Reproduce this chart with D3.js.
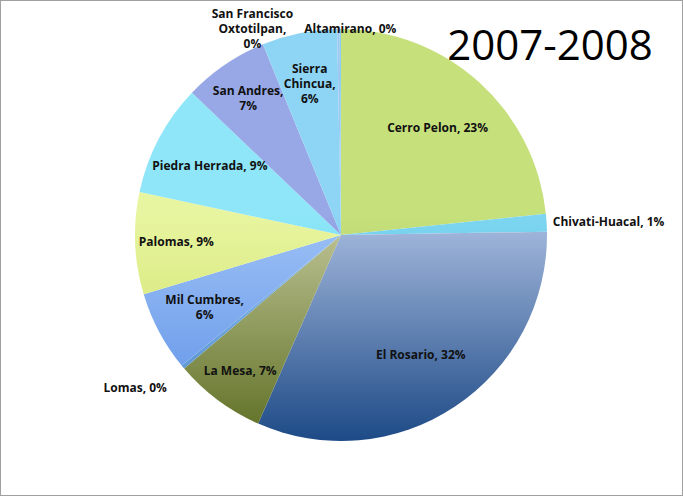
<!DOCTYPE html>
<html>
<head>
<meta charset="UTF-8">
<script src="https://d3js.org/d3.v7.min.js"></script>
<style>
  * { margin: 0; padding: 0; box-sizing: border-box; }
  body { background: #fff; font-family: "Open Sans", "Liberation Sans", sans-serif; }
  svg { display: block; }
</style>
</head>
<body>
<div id="chart"></div>
<script>
  // slices clockwise from 12 o'clock
  const categories = ["Cerro Pelon", "Chivati-Huacal", "El Rosario", "La Mesa", "Lomas",
                      "Mil Cumbres", "Palomas", "Piedra Herrada", "San Andres",
                      "Sierra Chincua", "San Francisco Oxtotilpan", "Altamirano"];
  const values = [23.4, 1.4, 31.9, 7.2, 0.3, 6.3, 8.0, 8.8, 6.7, 5.9, 0.2, 0.1];
  const pctLabels = ["23%", "1%", "32%", "7%", "0%", "6%", "9%", "9%", "7%", "6%", "0%", "0%"];
  const colors = ["#c6e07c", "#7ed6f0", "#a9bde0", "#c2c79a", "#8ec0ee", "#9ec2f6",
                  "#e8f5a0", "#8ee6f8", "#98a8e6", "#8ed4f4", "#9ec8f0", "#8ccff0"];
  const darks  = ["#9cc24a", "#3fb0d8", "#1d4a86", "#5d6e22", "#4a86c8", "#5a8ee6",
                  "#c8dc5a", "#3ec8e8", "#3f5ac0", "#3aa8e0", "#5a9ee0", "#4aa0d8"];

  const W = 683, H = 496;
  const cx = 341, cy = 235, r = 206;

  const svg = d3.select("#chart").append("svg").attr("width", W).attr("height", H);
  svg.append("rect").attr("x", 0.5).attr("y", 0.5).attr("width", W - 1).attr("height", H - 1)
     .attr("fill", "#fff").attr("stroke", "#a0a0a0");

  const data = categories.map((c, i) => ({ name: c, value: values[i], pct: pctLabels[i], i }));
  const pie = d3.pie().sort(null).value(d => d.value);
  const arc = d3.arc().innerRadius(0).outerRadius(r);
  const arcs = pie(data);

  const defs = svg.append("defs");
  arcs.forEach(a => {
    const g = defs.append("linearGradient").attr("id", "g" + a.data.i)
      .attr("gradientUnits", "userSpaceOnUse")
      .attr("x1", 0).attr("y1", -r).attr("x2", 0).attr("y2", r);
    g.append("stop").attr("offset", "0%").attr("stop-color", colors[a.data.i]);
    g.append("stop").attr("offset", "45%").attr("stop-color", colors[a.data.i]);
    g.append("stop").attr("offset", "100%").attr("stop-color", darks[a.data.i]);
  });

  const g = svg.append("g").attr("transform", `translate(${cx},${cy})`);
  g.selectAll("path").data(arcs).enter().append("path")
   .attr("d", arc)
   .attr("fill", d => `url(#g${d.data.i})`);

  // label placement: radius factor, anchor
  const place = {
    "Cerro Pelon":    { f: 0.7,  a: "middle" },
    "Chivati-Huacal": { f: 1.03, a: "start" },
    "El Rosario":     { f: 0.7,  a: "middle" },
    "La Mesa":        { f: 0.82, a: "middle" },
    "Lomas":          { f: 1.07, a: "end" },
    "Mil Cumbres":    { f: 0.75, a: "middle" },
    "Palomas":        { f: 0.8,  a: "middle" },
    "Piedra Herrada": { f: 0.72, a: "middle" },
    "San Andres":     { f: 0.8,  a: "middle" },
    "Sierra Chincua": { f: 0.75, a: "middle" },
    "San Francisco Oxtotilpan": { f: 1.0, a: "middle" },
    "Altamirano":     { f: 1.0,  a: "middle" }
  };
  const lines = {
    "San Andres": ["San Andres,", "7%"],
    "Mil Cumbres": ["Mil Cumbres,", "6%"],
    "Sierra Chincua": ["Sierra", "Chincua,", "6%"],
    "San Francisco Oxtotilpan": ["San Francisco", "Oxtotilpan,", "0%"]
  };
  const nudge = { "San Francisco Oxtotilpan": [-86, 0], "Altamirano": [10, 0], "Lomas": [-5, 12] };

  arcs.forEach(a => {
    const p = place[a.data.name];
    const m = (a.startAngle + a.endAngle) / 2;
    let x = Math.sin(m) * r * p.f, y = -Math.cos(m) * r * p.f;
    const n = nudge[a.data.name] || [0, 0];
    x += n[0]; y += n[1];
    const ls = lines[a.data.name] || [`${a.data.name}, ${a.data.pct}`];
    const t = g.append("text").attr("text-anchor", p.a)
      .attr("font-size", 12).attr("font-weight", "bold").attr("fill", "#111");
    ls.forEach((l, k) => {
      t.append("tspan").attr("x", x)
       .attr("y", y + (k - (ls.length - 1) / 2) * 15 + 4).text(l);
    });
  });

  svg.append("text").attr("x", 550).attr("y", 60).attr("text-anchor", "middle")
     .attr("font-size", 42).attr("fill", "#000").text("2007-2008");
</script>
</body>
</html>
